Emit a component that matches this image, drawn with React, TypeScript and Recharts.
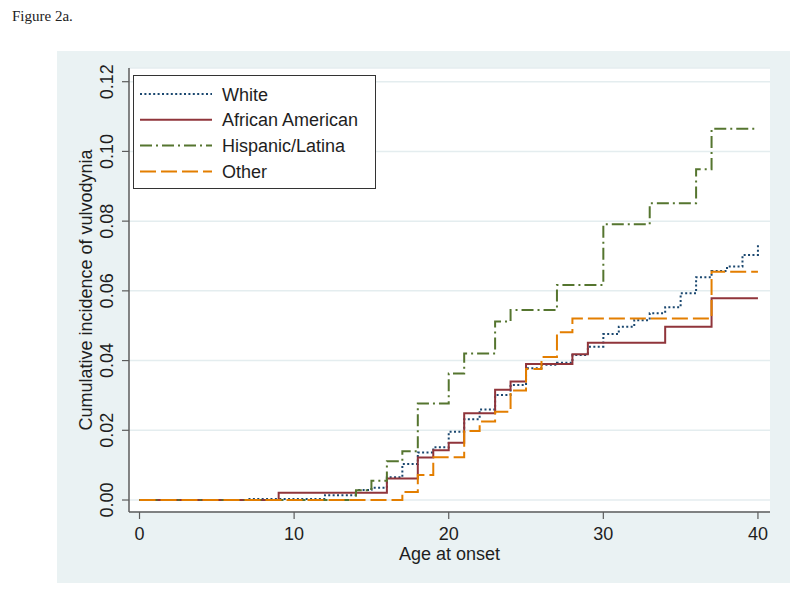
import React from 'react';
import { LineChart, Line, XAxis, YAxis, CartesianGrid, Legend } from 'recharts';

const ages = [0, 1, 2, 3, 4, 5, 6, 7, 8, 9, 10, 11, 12, 13, 14, 15, 16, 17, 18, 19, 20, 21, 22, 23, 24, 25, 26, 27, 28, 29, 30, 31, 32, 33, 34, 35, 36, 37, 38, 39, 40];

const white = [0, 0, 0, 0, 0, 0, 0, 0.0003, 0.0003, 0.0003, 0.0003, 0.0003, 0.0014, 0.0014, 0.0029, 0.0035, 0.0065, 0.0103, 0.0136, 0.0151, 0.0196, 0.0232, 0.026, 0.0301, 0.033, 0.0378, 0.0388, 0.0394, 0.0416, 0.044, 0.0476, 0.0497, 0.0516, 0.0536, 0.0553, 0.0593, 0.0639, 0.0657, 0.067, 0.0703, 0.0732];

const africanAmerican = [0, 0, 0, 0, 0, 0, 0, 0, 0, 0.0021, 0.0021, 0.0021, 0.0021, 0.0021, 0.0021, 0.0021, 0.0062, 0.0062, 0.0122, 0.0143, 0.0164, 0.0249, 0.0249, 0.0316, 0.034, 0.039, 0.039, 0.039, 0.0418, 0.0451, 0.0451, 0.0451, 0.0451, 0.0451, 0.0497, 0.0497, 0.0497, 0.0579, 0.0579, 0.0579, 0.0579];

const hispanicLatina = [0, 0, 0, 0, 0, 0, 0, 0, 0, 0, 0, 0, 0, 0, 0.0028, 0.0055, 0.0111, 0.014, 0.0277, 0.0277, 0.0363, 0.042, 0.042, 0.0512, 0.0545, 0.0545, 0.0545, 0.0617, 0.0617, 0.0617, 0.0791, 0.0791, 0.0791, 0.0851, 0.0851, 0.0851, 0.0949, 0.1065, 0.1065, 0.1065, 0.1065];

const other = [0, 0, 0, 0, 0, 0, 0, 0, 0, 0, 0, 0, 0, 0, 0, 0, 0, 0.0023, 0.0072, 0.0123, 0.0123, 0.0198, 0.0225, 0.0253, 0.0314, 0.0376, 0.041, 0.0481, 0.0521, 0.0521, 0.0521, 0.0521, 0.0521, 0.0521, 0.0521, 0.0521, 0.0521, 0.0655, 0.0655, 0.0655, 0.0655];

const xTicks = [0, 10, 20, 30, 40];
const yTicks = [0, 0.02, 0.04, 0.06, 0.08, 0.1, 0.12];

const data = ages.map((age, i) => ({
  age,
  white: white[i],
  aa: africanAmerican[i],
  hl: hispanicLatina[i],
  other: other[i],
}));

const FONT = '"Liberation Sans", Arial, Helvetica, sans-serif';
const TEXT = '#1e1e1e';
const AXIS = '#5c5c5c';

const series = [
  { key: 'white', name: 'White', color: '#1A476F', dash: '2 2.4' },
  { key: 'aa', name: 'African American', color: '#90353B', dash: undefined as string | undefined },
  { key: 'hl', name: 'Hispanic/Latina', color: '#55752F', dash: '12 4 2 4' },
  { key: 'other', name: 'Other', color: '#E37E00', dash: '16 5' },
];

const XTick = (props: any) => {
  const { x, y, payload } = props;
  return (
    <text x={x} y={y + 18.5} textAnchor="middle" fontSize={18} fontFamily={FONT} fill={TEXT}>
      {payload.value}
    </text>
  );
};

const YTick = (props: any) => {
  const { x, y, payload } = props;
  const tx = x - 7;
  return (
    <text
      x={tx}
      y={y}
      transform={`rotate(-90 ${tx} ${y})`}
      textAnchor="middle"
      fontSize={18}
      fontFamily={FONT}
      fill={TEXT}
    >
      {Number(payload.value).toFixed(2)}
    </text>
  );
};

const XTitle = (props: any) => {
  const vb = props.viewBox || {};
  return (
    <text x={vb.x + vb.width / 2} y={vb.y + 47.5} textAnchor="middle" fontSize={18} fontFamily={FONT} fill={TEXT}>
      Age at onset
    </text>
  );
};

const YTitle = (props: any) => {
  const vb = props.viewBox || {};
  const tx = vb.x + 33;
  const ty = vb.y + vb.height / 2;
  return (
    <text
      x={tx}
      y={ty}
      transform={`rotate(-90 ${tx} ${ty})`}
      textAnchor="middle"
      fontSize={18}
      fontFamily={FONT}
      fill={TEXT}
    >
      Cumulative incidence of vulvodynia
    </text>
  );
};

const LegendBox = () => (
  <svg width={243} height={114} style={{ display: 'block' }}>
    <rect x={0.5} y={0.5} width={242} height={113} fill="#ffffff" stroke="#333333" strokeWidth={1} />
    {series.map((s, i) => {
      const cy = 19 + i * 25.8;
      return (
        <g key={s.key}>
          <line x1={7} x2={79} y1={cy} y2={cy} stroke={s.color} strokeWidth={2} strokeDasharray={s.dash} />
          <text x={89} y={cy + 6.5} fontSize={18} fontFamily={FONT} fill={TEXT}>
            {s.name}
          </text>
        </g>
      );
    })}
  </svg>
);

export default function App() {
  return (
    <div style={{ position: 'absolute', left: 0, top: 0, width: 800, height: 596, background: '#ffffff' }}>
      <div
        style={{
          position: 'absolute',
          left: 12,
          top: 8,
          fontFamily: '"Liberation Serif", "Times New Roman", serif',
          fontSize: 15,
          color: '#222',
          whiteSpace: 'nowrap',
        }}
      >
        Figure 2a.
      </div>
      <div style={{ position: 'absolute', left: 57, top: 51, width: 733, height: 532, background: '#EAF2F3' }} />
      <div style={{ position: 'absolute', left: 0, top: 0 }}>
        <LineChart width={800} height={596} data={data} margin={{ top: 68, right: 30, bottom: 44, left: 59 }}>
          <CartesianGrid fill="#ffffff" stroke="#E4EDEF" strokeWidth={1.5} vertical={false} />
          <XAxis
            dataKey="age"
            type="number"
            domain={[-0.68, 40.78]}
            ticks={xTicks}
            allowDataOverflow
            height={40}
            tickSize={7}
            axisLine={{ stroke: AXIS, strokeWidth: 1.5 }}
            tickLine={{ stroke: AXIS, strokeWidth: 1.2 }}
            tick={<XTick />}
            label={<XTitle />}
          />
          <YAxis
            type="number"
            domain={[-0.00344, 0.12393]}
            ticks={yTicks}
            allowDataOverflow
            width={70}
            tickSize={7}
            axisLine={{ stroke: AXIS, strokeWidth: 1.5 }}
            tickLine={{ stroke: AXIS, strokeWidth: 1.2 }}
            tick={<YTick />}
            label={<YTitle />}
          />
          <Legend
            layout="vertical"
            align="center"
            verticalAlign="middle"
            content={<LegendBox />}
            wrapperStyle={{ left: 133, top: 75, width: 243, height: 114, right: 'auto', bottom: 'auto' }}
          />
          {series.map((s) => (
            <Line
              key={s.key}
              dataKey={s.key}
              name={s.name}
              type="stepAfter"
              stroke={s.color}
              strokeWidth={2}
              strokeDasharray={s.dash}
              dot={false}
              activeDot={false}
              isAnimationActive={false}
            />
          ))}
        </LineChart>
      </div>
    </div>
  );
}
